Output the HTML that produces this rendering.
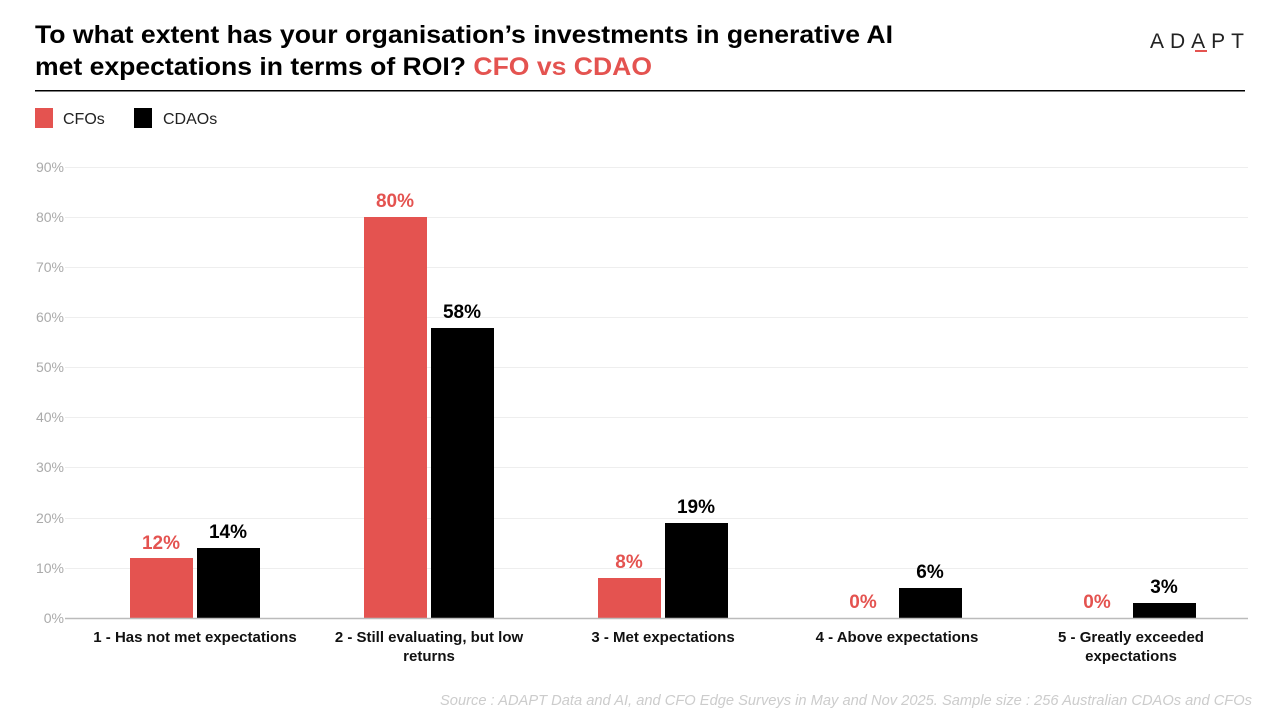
<!DOCTYPE html>
<html><head><meta charset="utf-8"><style>
body{margin:0;background:#fff;width:1280px;height:720px;overflow:hidden;font-family:"Liberation Sans",Arial,sans-serif}
</style></head><body>
<svg width="1280" height="720" xmlns="http://www.w3.org/2000/svg" font-family="Liberation Sans, Arial, sans-serif">
<text x="35" y="43" font-size="25" font-weight="bold" fill="#000" textLength="858" lengthAdjust="spacingAndGlyphs">To what extent has your organisation’s investments in generative AI</text>
<text x="35" y="75" font-size="25" font-weight="bold" fill="#000" textLength="617" lengthAdjust="spacingAndGlyphs">met expectations in terms of ROI? <tspan fill="#e45350">CFO vs CDAO</tspan></text>
<text x="1150" y="48" font-size="21" fill="#222" letter-spacing="6">ADAPT</text>
<rect x="1195" y="50" width="12" height="2" fill="#e45350"/>
<rect x="35" y="90" width="1210" height="1.5" fill="#000"/>
<rect x="35" y="108" width="18" height="20" fill="#e45350"/>
<text x="63" y="124" font-size="16" fill="#222">CFOs</text>
<rect x="134" y="108" width="18" height="20" fill="#000"/>
<text x="163" y="124" font-size="16" fill="#222">CDAOs</text>
<g stroke="#eee" stroke-width="1">
<line x1="65" x2="1248" y1="167.5" y2="167.5"/><line x1="65" x2="1248" y1="217.5" y2="217.5"/><line x1="65" x2="1248" y1="267.5" y2="267.5"/><line x1="65" x2="1248" y1="317.5" y2="317.5"/><line x1="65" x2="1248" y1="367.5" y2="367.5"/><line x1="65" x2="1248" y1="417.5" y2="417.5"/><line x1="65" x2="1248" y1="467.5" y2="467.5"/><line x1="65" x2="1248" y1="518.5" y2="518.5"/><line x1="65" x2="1248" y1="568.5" y2="568.5"/>
</g>
<g font-size="14" fill="#aaa" text-anchor="end">
<text x="64" y="172">90%</text><text x="64" y="222">80%</text><text x="64" y="272">70%</text><text x="64" y="322">60%</text><text x="64" y="372">50%</text><text x="64" y="422">40%</text><text x="64" y="472">30%</text><text x="64" y="523">20%</text><text x="64" y="573">10%</text><text x="64" y="623">0%</text>
</g>
<g fill="#e45350">
<rect x="130" y="558" width="63" height="60"/><rect x="364" y="217" width="63" height="401"/><rect x="598" y="578" width="63" height="40"/>
</g>
<g fill="#000">
<rect x="197" y="548" width="63" height="70"/><rect x="431" y="328" width="63" height="290"/><rect x="665" y="523" width="63" height="95"/><rect x="899" y="588" width="63" height="30"/><rect x="1133" y="603" width="63" height="15"/>
</g>
<line x1="65" x2="1248" y1="618.5" y2="618.5" stroke="#bbb" stroke-width="1.5"/>
<g font-size="19" font-weight="bold" text-anchor="middle">
<text x="161" y="549" fill="#e45350">12%</text><text x="228" y="538" fill="#000">14%</text>
<text x="395" y="207" fill="#e45350">80%</text><text x="462" y="318" fill="#000">58%</text>
<text x="629" y="568" fill="#e45350">8%</text><text x="696" y="513" fill="#000">19%</text>
<text x="863" y="608" fill="#e45350">0%</text><text x="930" y="578" fill="#000">6%</text>
<text x="1097" y="608" fill="#e45350">0%</text><text x="1164" y="593" fill="#000">3%</text>
</g>
<g font-size="15" font-weight="bold" text-anchor="middle" fill="#111">
<text x="195" y="642">1 - Has not met expectations</text>
<text x="429" y="642">2 - Still evaluating, but low</text><text x="429" y="661">returns</text>
<text x="663" y="642">3 - Met expectations</text>
<text x="897" y="642">4 - Above expectations</text>
<text x="1131" y="642">5 - Greatly exceeded</text><text x="1131" y="661">expectations</text>
</g>
<text x="440" y="705" font-size="15" font-style="italic" fill="#ccc" textLength="812" lengthAdjust="spacingAndGlyphs">Source : ADAPT Data and AI, and CFO Edge Surveys in May and Nov 2025. Sample size : 256 Australian CDAOs and CFOs</text>
</svg>
</body></html>
